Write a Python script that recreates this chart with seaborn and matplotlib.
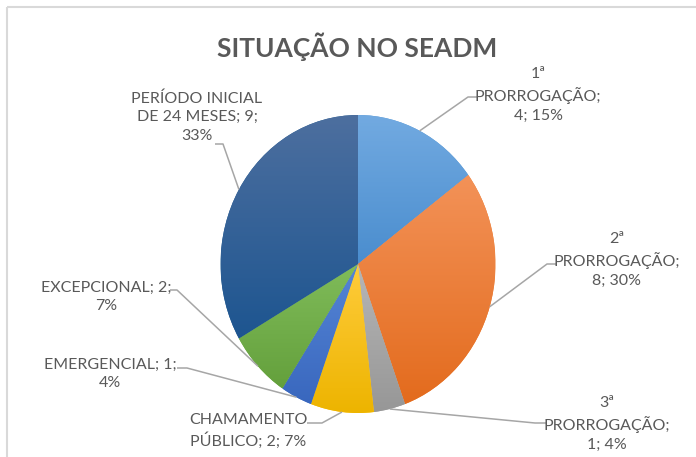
import numpy as np
import matplotlib
matplotlib.use("Agg")
import matplotlib.pyplot as plt
import seaborn as sns
from matplotlib.colors import LinearSegmentedColormap
from matplotlib.patches import Rectangle

## data
names = ["1ª\nPRORROGAÇÃO", "2ª\nPRORROGAÇÃO", "3ª\nPRORROGAÇÃO", "CHAMAMENTO\nPÚBLICO",
         "EMERGENCIAL", "EXCEPCIONAL", "PERÍODO INICIAL\nDE 24 MESES"]
values = [4, 8, 1, 2, 1, 2, 9]
title = "SITUAÇÃO NO SEADM"

## style
base = ["#5B9BD5", "#ED7D31", "#A5A5A5", "#FFC000", "#4472C4", "#70AD47", "#255E91"]
tops = ["#72AAE1", "#F39258", "#B6B6B6", "#FFCC3C", "#5686D6", "#80BC5A", "#4D6F9F"]
bots = ["#4A8DCE", "#E36B1D", "#979797", "#EDB400", "#3967BE", "#64A03C", "#1D5590"]
txt_col = "#595959"
line_col = "#A6A6A6"

## layout (pixels, origin top-left)
W, H = 696, 457
cx, cy, rx, ry = 358, 264, 137.5, 149
label_xy = [(538, 95), (617, 260), (607, 424), (248, 431), (110, 374), (106, 297), (197, 117)]
sep1 = ["\n", "\n", "\n", " ", " ", " ", " "]
sep2 = [" ", " ", " ", " ", "\n", "\n", "\n"]
elbow = [[(468, 97), (477, 97)], [(547, 264), (556, 264)], [(535, 423), (546, 423)],
         [(322, 423), (307, 423)], [(187, 368), (177, 368)], [(177, 290), (170, 290)],
         [(223, 144), (215, 144)]]

sns.set_theme(style="white")
plt.rcParams["font.family"] = ["Lato", "DejaVu Sans"]

fig = plt.figure(figsize=(W / 100, H / 100), dpi=100)
fig.patch.set_facecolor("white")

pie_ax = fig.add_axes([(cx - rx) / W, (H - cy - ry) / H, 2 * rx / W, 2 * ry / H])
wedges, _ = pie_ax.pie(values, colors=base, startangle=90, counterclock=False,
                       radius=1, wedgeprops=dict(linewidth=0))
grad = np.linspace(0, 1, 256).reshape(-1, 1)
for w, ct, cb in zip(wedges, tops, bots):
    bb = w.get_path().get_extents()
    cmap = LinearSegmentedColormap.from_list("g", [ct, cb])
    im = pie_ax.imshow(grad, cmap=cmap, extent=(bb.x0, bb.x1, bb.y0, bb.y1),
                       origin="upper", aspect="auto", zorder=w.get_zorder() + 0.1,
                       interpolation="bilinear")
    im.set_clip_path(w)
pie_ax.set_aspect("auto")
pie_ax.set_xlim(-1, 1)
pie_ax.set_ylim(-1, 1)
pie_ax.axis("off")

ax = fig.add_axes([0, 0, 1, 1], zorder=5)
ax.set_xlim(0, W)
ax.set_ylim(H, 0)
ax.axis("off")
ax.patch.set_alpha(0)

ax.add_patch(Rectangle((7, 7), W, H, fill=False, edgecolor="#D9D9D9", linewidth=1.5))
ax.text(357, 47, title, ha="center", va="center", fontsize=19, fontweight="bold", color=txt_col)

total = sum(values)
for w, n, v, s1, s2, (lx, ly), el in zip(wedges, names, values, sep1, sep2, label_xy, elbow):
    pct = round(100 * v / total)
    ax.text(lx, ly, f"{n};{s1}{v};{s2}{pct}%", ha="center", va="center",
            fontsize=11.5, color=txt_col, linespacing=1.42, multialignment="center")
    mid = np.deg2rad((w.theta1 + w.theta2) / 2)
    px, py = cx + rx * np.cos(mid), cy - ry * np.sin(mid)
    xs = [px] + [p[0] for p in el]
    ys = [py] + [p[1] for p in el]
    ax.plot(xs, ys, color=line_col, linewidth=1.1, solid_capstyle="butt")

fig.savefig("out.png", dpi=100, facecolor="white")
